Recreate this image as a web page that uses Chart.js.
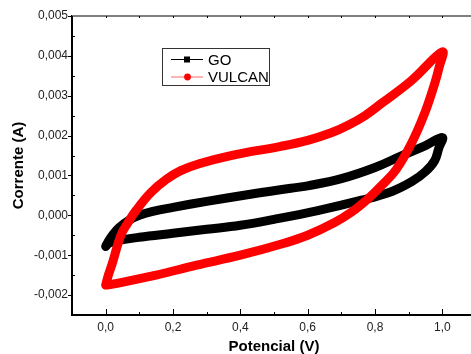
<!DOCTYPE html>
<html>
<head>
<meta charset="utf-8">
<script src="https://cdn.jsdelivr.net/npm/chart.js@4/dist/chart.umd.min.js"></script>
<style>
  body { margin: 0; overflow: hidden; background: #fff; }
</style>
</head>
<body>
<canvas id="grafico" width="480" height="354"></canvas>
<script>
// voltametria ciclica - valores lidos do grafico
// cada curva: ida (0 -> 1 V) e volta (1 -> 0 V)
var potencialGO = [0.0, 0.008, 0.02, 0.04, 0.07, 0.1, 0.14, 0.2, 0.3, 0.43, 0.55, 0.6, 0.7, 0.8, 0.88, 0.95, 1.0,
                   0.99, 0.977, 0.95, 0.91, 0.85, 0.76, 0.63, 0.5, 0.4, 0.3, 0.2, 0.1, 0.04, 0.01, 0.0];
var correnteGO = [-0.00078, -0.00065, -0.0005, -0.00031, -0.00012, 0.0, 0.0001, 0.0002, 0.00035, 0.00053, 0.00068, 0.00074, 0.00092, 0.0012, 0.0015, 0.00175, 0.00195,
                  0.0017, 0.00137, 0.0011, 0.00085, 0.0006, 0.00038, 0.00012, -0.0001, -0.00025, -0.00035, -0.00045, -0.00055, -0.00063, -0.0007, -0.00078];

var potencialVULCAN = [0.0, 0.008, 0.02, 0.045, 0.065, 0.09, 0.134, 0.18, 0.223, 0.28, 0.372, 0.52, 0.6, 0.67, 0.72, 0.77, 0.818, 0.908, 1.0,
                       0.99, 0.977, 0.947, 0.908, 0.863, 0.82, 0.78, 0.73, 0.68, 0.6, 0.53, 0.4, 0.27, 0.15, 0.025, 0.0];
var correnteVULCAN = [-0.00175, -0.0015, -0.0012, -0.0005, -0.0002, 0.00012, 0.00057, 0.0009, 0.00112, 0.0013, 0.0015, 0.00173, 0.00188, 0.00207, 0.00226, 0.0025, 0.0028, 0.00338, 0.0041,
                      0.0037, 0.0033, 0.00255, 0.0018, 0.00115, 0.00075, 0.00042, 0.00008, -0.00018, -0.0005, -0.0007, -0.001, -0.00125, -0.0015, -0.00172, -0.00175];

var ticksX = [0.0, 0.2, 0.4, 0.6, 0.8, 1.0];
var ticksY = [-0.002, -0.001, 0.0, 0.001, 0.002, 0.003, 0.004, 0.005];

var fonte = '"Liberation Sans", Arial, sans-serif';
Chart.defaults.font.family = fonte;

function pontos(xs, ys) {
  var lista = [];
  for (var i = 0; i < xs.length; i++) {
    lista.push({ x: xs[i], y: ys[i] });
  }
  return lista;
}

function virgula(v, casas) {
  return v.toFixed(casas).replace('.', ',');
}

// tracinhos dos eixos (maiores e menores) + borda de cima
var marcas = {
  id: 'marcas',
  afterDraw: function (chart) {
    var ctx = chart.ctx;
    var area = chart.chartArea;
    var sx = chart.scales.x;
    var sy = chart.scales.y;
    ctx.save();
    ctx.strokeStyle = '#808080';
    ctx.lineWidth = 2;
    ctx.beginPath();
    ctx.moveTo(area.left, area.top);
    ctx.lineTo(chart.width, area.top);
    ctx.stroke();

    ctx.strokeStyle = '#000';
    ctx.lineWidth = 1;
    ctx.beginPath();
    for (var i = -1; i <= 11; i++) {
      var px = Math.round(sx.getPixelForValue(i / 10)) + 0.5;
      var tam = (i % 2 == 0) ? 6 : 3;
      ctx.moveTo(px, area.bottom);
      ctx.lineTo(px, area.bottom - tam);
      ctx.moveTo(px, area.top);
      ctx.lineTo(px, area.top + 2);
    }
    for (var j = -5; j <= 10; j++) {
      var py = Math.round(sy.getPixelForValue(j * 0.0005)) + 0.5;
      if (j % 2 == 0) {
        ctx.moveTo(area.left, py);
        ctx.lineTo(area.left - 4, py);
      } else {
        ctx.moveTo(area.left, py);
        ctx.lineTo(area.left + 3, py);
      }
    }
    ctx.stroke();
    ctx.restore();
  }
};

// legenda no estilo do Origin
var legenda = {
  id: 'legenda',
  afterDraw: function (chart) {
    var ctx = chart.ctx;
    var sets = chart.data.datasets;
    ctx.save();
    ctx.fillStyle = '#fff';
    ctx.fillRect(162.5, 48.5, 107, 37);
    ctx.strokeStyle = '#333';
    ctx.lineWidth = 1;
    ctx.strokeRect(162.5, 48.5, 107, 37);
    for (var i = 0; i < sets.length; i++) {
      var y = 59.5 + i * 17.5;
      ctx.strokeStyle = sets[i].corLegenda;
      ctx.beginPath();
      ctx.moveTo(171, y);
      ctx.lineTo(203, y);
      ctx.stroke();
      ctx.fillStyle = sets[i].borderColor;
      if (sets[i].marcador == 'rect') {
        ctx.fillRect(184, y - 3, 6, 6);
      } else {
        ctx.beginPath();
        ctx.arc(187.5, y, 3.4, 0, Math.PI * 2);
        ctx.fill();
      }
      ctx.fillStyle = '#000';
      ctx.font = '15px ' + fonte;
      ctx.textBaseline = 'middle';
      ctx.fillText(sets[i].label, 208, y + 1);
    }
    ctx.restore();
  }
};

var ctx = document.getElementById('grafico').getContext('2d');
var chart = new Chart(ctx, {
  type: 'scatter',
  data: {
    datasets: [{
      label: 'GO',
      data: pontos(potencialGO, correnteGO),
      showLine: true,
      borderColor: '#000000',
      backgroundColor: '#000000',
      corLegenda: '#000000',
      marcador: 'rect',
      borderWidth: 9,
      borderCapStyle: 'round',
      borderJoinStyle: 'round',
      pointRadius: 0,
      tension: 0.4,
      order: 2
    }, {
      label: 'VULCAN',
      data: pontos(potencialVULCAN, correnteVULCAN),
      showLine: true,
      borderColor: '#ff0000',
      backgroundColor: '#ff0000',
      corLegenda: '#ff6a6a',
      marcador: 'circle',
      borderWidth: 9,
      borderCapStyle: 'round',
      borderJoinStyle: 'round',
      pointRadius: 0,
      tension: 0.4,
      order: 1
    }]
  },
  options: {
    responsive: false,
    devicePixelRatio: 1,
    animation: false,
    layout: { padding: { top: 16, right: 4, left: 0, bottom: 0 } },
    plugins: {
      legend: { display: false },
      tooltip: { enabled: false }
    },
    scales: {
      x: {
        type: 'linear',
        min: -0.1,
        max: 1.1,
        afterBuildTicks: function (scale) {
          scale.ticks = ticksX.map(function (v) { return { value: v }; });
        },
        afterFit: function (scale) { scale.height = 39; },
        grid: { display: false, drawTicks: false },
        border: { color: '#000', width: 2 },
        ticks: {
          padding: 5,
          color: '#222',
          autoSkip: false,
          maxRotation: 0,
          font: { size: 12 },
          callback: function (v) { return virgula(v, 1); }
        },
        title: {
          display: true,
          text: 'Potencial (V)',
          color: '#000',
          padding: 0,
          font: { size: 15, weight: 'bold', lineHeight: 1 }
        }
      },
      y: {
        type: 'linear',
        min: -0.0025,
        max: 0.005,
        afterBuildTicks: function (scale) {
          scale.ticks = ticksY.map(function (v) { return { value: v }; });
        },
        afterFit: function (scale) { scale.width = 72; },
        grid: { display: false, drawTicks: false },
        border: { color: '#000', width: 2 },
        ticks: {
          padding: 4,
          color: '#222',
          autoSkip: false,
          font: { size: 12 },
          callback: function (v) { return virgula(v, 3); }
        },
        title: {
          display: true,
          text: 'Corrente (A)',
          color: '#000',
          padding: { top: 11, bottom: 0 },
          font: { size: 15, weight: 'bold', lineHeight: 1 }
        }
      }
    }
  },
  plugins: [marcas, legenda]
});
</script>
</body>
</html>
